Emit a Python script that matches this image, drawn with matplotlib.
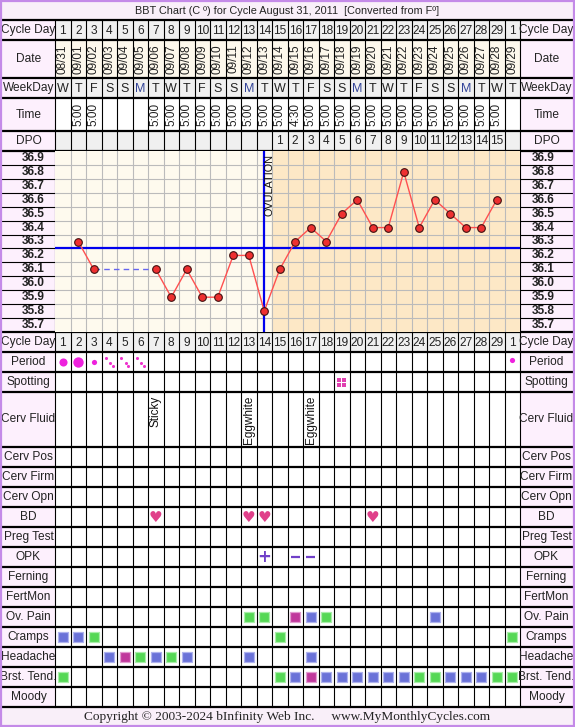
import matplotlib
matplotlib.use('Agg')
import matplotlib.pyplot as plt
from matplotlib.patches import Rectangle
import numpy as np

plt.rcParams['font.family'] = ['Liberation Sans', 'DejaVu Sans']

# --- dados do ciclo ---
cycle_day = ['1', '2', '3', '4', '5', '6', '7', '8', '9', '10', '11', '12', '13', '14', '15',
             '16', '17', '18', '19', '20', '21', '22', '23', '24', '25', '26', '27', '28', '29', '1']
dates = ['08/31', '09/01', '09/02', '09/03', '09/04', '09/05', '09/06', '09/07', '09/08', '09/09',
         '09/10', '09/11', '09/12', '09/13', '09/14', '09/15', '09/16', '09/17', '09/18', '09/19',
         '09/20', '09/21', '09/22', '09/23', '09/24', '09/25', '09/26', '09/27', '09/28', '09/29']
weekdays = ['W', 'T', 'F', 'S', 'S', 'M', 'T', 'W', 'T', 'F', 'S', 'S', 'M', 'T', 'W',
            'T', 'F', 'S', 'S', 'M', 'T', 'W', 'T', 'F', 'S', 'S', 'M', 'T', 'W', 'T']
times = ['', '5:00', '5:00', '', '', '', '5:00', '5:00', '5:00', '5:00', '5:00', '5:00', '5:00', '5:00', '5:00',
         '4:30', '5:00', '5:00', '5:00', '5:00', '5:00', '5:00', '5:00', '5:00', '5:00', '5:00', '5:00', '5:00', '5:00', '']
dpo = ['', '', '', '', '', '', '', '', '', '', '', '', '', '', '1',
       '2', '3', '4', '5', '6', '7', '8', '9', '10', '11', '12', '13', '14', '15', '']
temps = [np.nan, 36.3, 36.1, np.nan, np.nan, np.nan, 36.1, 35.9, 36.1, 35.9, 35.9, 36.2, 36.2, 35.8, 36.1,
         36.3, 36.4, 36.3, 36.5, 36.6, 36.4, 36.4, 36.8, 36.4, 36.6, 36.5, 36.4, 36.4, 36.6, np.nan]
temp_ticks = [36.9, 36.8, 36.7, 36.6, 36.5, 36.4, 36.3, 36.2, 36.1, 36.0, 35.9, 35.8, 35.7]
coverline = 36.25
ovulation_day = 14

period_heavy = {1: 'medio', 2: 'forte', 3: 'leve', 30: 'leve'}
period_spot = [4, 5, 6]
spotting = [19]
cerv_fluid = {7: 'Sticky', 13: 'Eggwhite', 17: 'Eggwhite'}
bd = [7, 13, 14, 21]
opk_pos = [14]
opk_neg = [16, 17]
ov_pain = {13: 'g', 14: 'g', 16: 'm', 17: 'b', 18: 'g', 25: 'b'}
cramps = {1: 'b', 2: 'b', 3: 'g', 15: 'g', 30: 'g'}
headache = {4: 'b', 5: 'm', 6: 'g', 7: 'b', 8: 'g', 9: 'b', 13: 'b', 17: 'b'}
brst_tend = {1: 'g', 15: 'g', 16: 'b', 17: 'm', 18: 'b', 19: 'b', 20: 'b', 21: 'b', 22: 'b', 23: 'b',
             24: 'g', 25: 'g', 26: 'b', 27: 'b', 28: 'b', 29: 'g', 30: 'g'}

# --- layout em pixels ---
W, H = 575, 727
LX, RX = 55, 520          # limites da grade dos dias
CW = (RX - LX) / 30.0     # largura de cada coluna
days = np.arange(1, 31)

def dx(px):
    # pixel horizontal -> coordenada de dia
    return 0.5 + (px - LX) / CW

rows_top = [
    ('Cycle Day', 20, 40, '#f0f0f0'),
    ('Date', 40, 78, '#fdf8ec'),
    ('WeekDay', 78, 98, '#f0f0f0'),
    ('Time', 98, 131, 'white'),
    ('DPO', 131, 151, '#f0f0f0'),
]
T_TOP, T_BOT = 151, 332
rows_bot = [
    ('Cycle Day', 332, 352, '#f0f0f0'),
    ('Period', 352, 372, 'white'),
    ('Spotting', 372, 392, 'white'),
    ('Cerv Fluid', 392, 447, 'white'),
    ('Cerv Pos', 447, 467, 'white'),
    ('Cerv Firm', 467, 487, 'white'),
    ('Cerv Opn', 487, 507, 'white'),
    ('BD', 507, 527, 'white'),
    ('Preg Test', 527, 547, 'white'),
    ('OPK', 547, 567, 'white'),
    ('Ferning', 567, 587, 'white'),
    ('FertMon', 587, 607, 'white'),
    ('Ov. Pain', 607, 627, 'white'),
    ('Cramps', 627, 647, 'white'),
    ('Headache', 647, 667, 'white'),
    ('Brst. Tend.', 667, 687, 'white'),
    ('Moody', 687, 707, 'white'),
]
label_bg = '#fdf0fd'
txt = '#222222'
fs = 8.6

fig = plt.figure(figsize=(W / 100, H / 100), dpi=100)
fig.patch.set_facecolor('white')
ax = fig.add_axes([0, 0, 1, 1])
ax.set_xlim(dx(0), dx(W))
ax.set_ylim(H, 0)
ax.axis('off')

# titulo e rodape
ax.add_patch(Rectangle((dx(0), 0), dx(W) - dx(0), 20, fc='#f9eff9', ec='none'))
ax.add_patch(Rectangle((dx(0), 707), dx(W) - dx(0), 20, fc='#f9eff9', ec='none'))
ax.text(dx(W / 2), 10.5, 'BBT Chart (C º) for Cycle August 31, 2011  [Converted from Fº]',
        ha='center', va='center', fontsize=7.8, color=txt)
ax.text(dx(W / 2), 717, 'Copyright © 2003-2024 bInfinity Web Inc.     www.MyMonthlyCycles.com',
        ha='center', va='center', fontsize=9.6, color='#222222', family='Liberation Serif')

all_rows = rows_top + rows_bot
for name, y0, y1, bg in all_rows:
    ax.add_patch(Rectangle((0.5, y0), 30, y1 - y0, fc=bg, ec='none'))
    for xl in (dx(2), dx(RX)):
        ax.add_patch(Rectangle((xl, y0), dx(LX) - dx(2), y1 - y0, fc=label_bg, ec='none'))
    ax.text(dx((2 + LX) / 2), (y0 + y1) / 2, name, ha='center', va='center', fontsize=fs, color=txt)
    ax.text(dx((RX + 573) / 2), (y0 + y1) / 2, name, ha='center', va='center', fontsize=fs, color=txt)

# linhas dos dias (cabecalho e tabela)
ax.add_patch(Rectangle((dx(2), T_TOP), dx(LX) - dx(2), T_BOT - T_TOP, fc=label_bg, ec='none'))
ax.add_patch(Rectangle((dx(RX), T_TOP), dx(573) - dx(RX), T_BOT - T_TOP, fc=label_bg, ec='none'))
for k in range(31):
    ax.plot([0.5 + k, 0.5 + k], [20, T_TOP], color='black', lw=0.8)
    ax.plot([0.5 + k, 0.5 + k], [T_BOT, 707], color='black', lw=0.8)
edges = sorted(set([r[1] for r in all_rows] + [r[2] for r in all_rows] + [20]))
for y in edges:
    ax.plot([dx(2), dx(573)], [y, y], color='black', lw=1.6)

# cabecalho
for i, d in enumerate(days):
    ax.text(d, 30.5, cycle_day[i], ha='center', va='center', fontsize=fs, color=txt)
    ax.text(d, 342.5, cycle_day[i], ha='center', va='center', fontsize=fs, color=txt)
    ax.text(d, 59, dates[i], ha='center', va='center', rotation=90, fontsize=8.5, color=txt)
    ax.text(d, 88.5, weekdays[i], ha='center', va='center', fontsize=9,
            color='#334499' if weekdays[i] == 'M' else txt)
    if times[i]:
        ax.text(d, 114.5, times[i], ha='center', va='center', rotation=90, fontsize=8.5, color=txt)
    if dpo[i]:
        ax.text(d, 141.5, dpo[i], ha='center', va='center', fontsize=fs, color=txt)

# menstruacao
sizes = {'leve': 14, 'medio': 34, 'forte': 56}
for d, kind in period_heavy.items():
    ax.scatter([d], [362 if d != 30 else 360], s=sizes[kind], color='#ee22dd', zorder=5, lw=0)
off = 3.4 / CW
for d in period_spot:
    ax.scatter([d - off, d + off * 0.3, d + off * 1.1], [358, 362.5, 366], s=5, color='#ee33cc', zorder=5, lw=0)
for d in spotting:
    ax.scatter([d - 2.4 / CW, d + 2.4 / CW, d - 2.4 / CW, d + 2.4 / CW], [379.5, 379.5, 384.5, 384.5],
               s=9, marker='s', color='#e040b0', zorder=5, lw=0)

for d, s in cerv_fluid.items():
    ax.text(d, 396, s, ha='center', va='top', rotation=90, fontsize=8.5, color='#111111')

for d in bd:
    ax.text(d, 518, '♥', ha='center', va='center', fontsize=11, color='#e0408a', family='DejaVu Sans')

for d in opk_pos:
    ax.text(d, 557.5, '+', ha='center', va='center', fontsize=12, fontweight='bold', color='#7040c8',
            family='DejaVu Sans')
for d in opk_neg:
    ax.plot([d - 4.5 / CW, d + 4.5 / CW], [557, 557], color='#7040c8', lw=1.6, solid_capstyle='butt')

cores = {'b': ('#6a72d8', '#aeb2ee'), 'g': ('#55d855', '#a8eea8'), 'm': ('#c0389c', '#e29ad0')}
for dados, (y0, y1) in [(ov_pain, (607, 627)), (cramps, (627, 647)),
                        (headache, (647, 667)), (brst_tend, (667, 687))]:
    for d, c in dados.items():
        ax.scatter([d], [(y0 + y1) / 2], marker='s', s=50, color=cores[c][0],
                   edgecolors=cores[c][1], linewidths=0.9, zorder=5)

# etiquetas de temperatura nas laterais
rh = (T_BOT - T_TOP) / len(temp_ticks)
for j, t in enumerate(temp_ticks):
    yc = T_TOP + (j + 0.5) * rh
    ax.text(dx(33), yc, f'{t:.1f}', ha='center', va='center', fontsize=8.6, fontweight='bold', color=txt)
    ax.text(dx(543), yc, f'{t:.1f}', ha='center', va='center', fontsize=8.6, fontweight='bold', color=txt)
    if j > 0:
        yb = T_TOP + j * rh
        ax.plot([dx(2), dx(LX)], [yb, yb], color='black', lw=0.8)
        ax.plot([dx(RX), dx(573)], [yb, yb], color='black', lw=0.8)
for xv in (dx(LX), dx(RX)):
    ax.plot([xv, xv], [T_TOP, T_BOT], color='black', lw=0.8)

# borda externa
ax.add_patch(Rectangle((dx(1), 1), dx(W - 1) - dx(1), H - 2, fc='none', ec='#c48ae8', lw=1.6, zorder=10))

# --- grafico de temperatura ---
tax = fig.add_axes([LX / W, 1 - T_BOT / H, (RX - LX) / W, (T_BOT - T_TOP) / H])
tax.set_xlim(0.5, 30.5)
tax.set_ylim(35.65, 36.95)
tax.set_facecolor('#fefaee')
tax.axvspan(ovulation_day + 0.5, 30.5, color='#fde8c6', zorder=0)
for k in range(1, 30):
    tax.axvline(k + 0.5, color='#bbbbbb', lw=0.8, zorder=1)
for t in temp_ticks[:-1]:
    tax.axhline(t - 0.05, color='#bbbbbb', lw=0.8, zorder=1)

temps = np.array(temps)
tax.axhline(coverline, color='#0000ee', lw=1.6, zorder=3)
tax.axvline(ovulation_day, color='#0000ee', lw=1.6, zorder=3)
tax.text(ovulation_day + 0.35, 36.93, 'OVULATION', rotation=90, ha='center', va='top',
         fontsize=7.8, color='#111111', zorder=4)

# dias sem medicao: linha tracejada ligando os pontos
ok = np.where(~np.isnan(temps))[0]
for a, b in zip(ok[:-1], ok[1:]):
    if b - a > 1:
        tax.plot([days[a], days[b]], [temps[a], temps[b]], color='#6666ee', lw=1, ls=(0, (4, 3)), zorder=4)
tax.plot(days, temps, color='#ff5050', lw=1, zorder=5)
tax.plot(days, temps, ls='none', marker='o', ms=5.5, mfc='#ee3030', mec='#401010', mew=0.8, zorder=6)

tax.set_xticks([])
tax.set_yticks([])
for sp in tax.spines.values():
    sp.set_visible(False)

fig.savefig('out.png', dpi=100, facecolor='white')
plt.close(fig)
